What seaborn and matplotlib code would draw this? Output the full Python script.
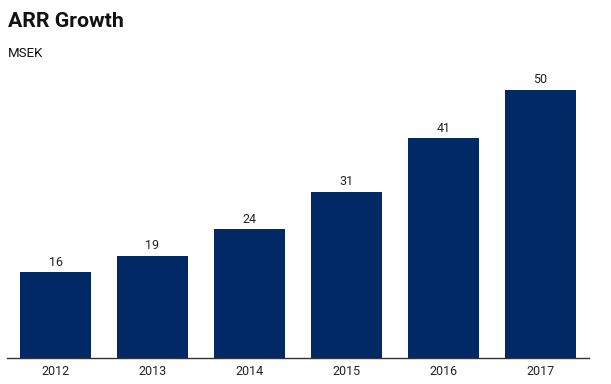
import matplotlib
matplotlib.use("Agg")
import matplotlib.pyplot as plt
import seaborn as sns
import pandas as pd

# ========== DATA ==========
years = ["2012", "2013", "2014", "2015", "2016", "2017"]
arr_msek = [16, 19, 24, 31, 41, 50]

BAR_COLOR = "#012965"
TEXT_COLOR = "#222222"

sns.set_theme(style="white")
plt.rcParams['font.family'] = ['Roboto', 'DejaVu Sans']

df = pd.DataFrame({"year": years, "arr": arr_msek})

fig = plt.figure(figsize=(6.11, 3.84), dpi=100)
ax = fig.add_axes([0.0115, 0.0677, 0.9525, 0.752])

sns.barplot(data=df, x="year", y="arr", color=BAR_COLOR, width=0.74,
            saturation=1, linewidth=0, ax=ax)

ax.set_ylim(0, 53.9)
ax.set_xlim(-0.5, 5.5)
ax.set_xlabel("")
ax.set_ylabel("")
ax.set_yticks([])
ax.tick_params(axis="x", length=0, pad=5, labelsize=9, colors=TEXT_COLOR)

for s in ["top", "right", "left"]:
    ax.spines[s].set_visible(False)
ax.spines["bottom"].set_color("#333333")
ax.spines["bottom"].set_linewidth(1.0)

for i, v in enumerate(arr_msek):
    ax.text(i, v + 0.7, str(v), ha="center", va="bottom",
            fontsize=9, color=TEXT_COLOR)

fig.text(0.013, 0.945, "ARR Growth", fontsize=15.3, fontweight="bold",
         color="#111111", ha="left", va="center")
fig.text(0.013, 0.86, "MSEK", fontsize=9.5, color="#111111",
         ha="left", va="center")

fig.savefig("out.png", dpi=100)
